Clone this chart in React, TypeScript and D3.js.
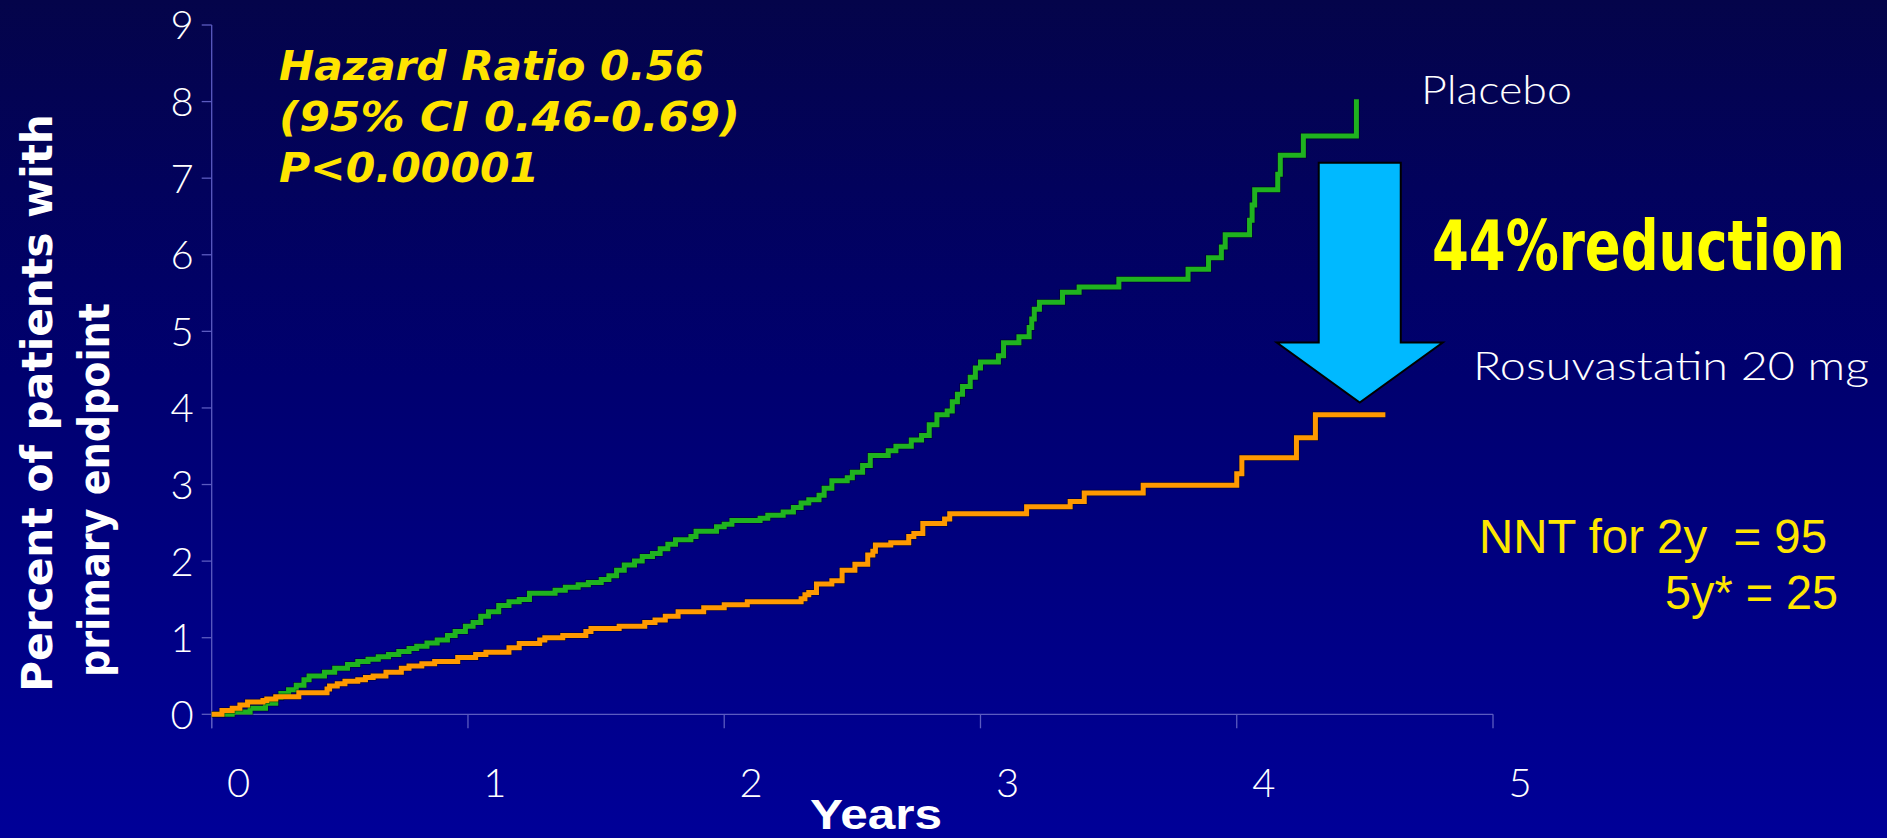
import React, { useEffect } from 'react';
import * as d3 from 'd3';

const W = 1887;
const H = 838;

// ---- data ----
const xTickValues = [0, 1, 2, 3, 4, 5];
const yTickValues = [0, 1, 2, 3, 4, 5, 6, 7, 8, 9];

// [years, cumulative % with primary endpoint] (value holds after time)
const placeboSteps: [number, number][] = [
  [0, 0], [0.08, 0.03], [0.15, 0.08], [0.21, 0.145], [0.25, 0.22], [0.27, 0.27], [0.3, 0.32],
  [0.33, 0.38], [0.36, 0.45], [0.38, 0.5], [0.44, 0.55], [0.48, 0.6], [0.53, 0.65], [0.57, 0.69],
  [0.61, 0.72], [0.65, 0.75], [0.69, 0.78], [0.73, 0.82], [0.77, 0.86], [0.8, 0.89], [0.84, 0.93],
  [0.88, 0.97], [0.92, 1.03], [0.95, 1.08], [0.99, 1.15], [1.02, 1.2], [1.05, 1.28], [1.08, 1.34],
  [1.12, 1.42], [1.16, 1.47], [1.2, 1.5], [1.24, 1.58], [1.34, 1.62], [1.38, 1.66], [1.43, 1.69],
  [1.47, 1.72], [1.52, 1.76], [1.55, 1.81], [1.58, 1.88], [1.61, 1.95], [1.65, 2.0], [1.68, 2.06],
  [1.72, 2.1], [1.75, 2.16], [1.78, 2.22], [1.81, 2.28], [1.87, 2.32], [1.89, 2.39], [1.97, 2.45],
  [2.0, 2.48], [2.03, 2.53], [2.14, 2.56], [2.17, 2.6], [2.23, 2.64], [2.27, 2.7], [2.3, 2.76],
  [2.33, 2.8], [2.37, 2.86], [2.39, 2.95], [2.42, 3.05], [2.48, 3.09], [2.5, 3.16], [2.54, 3.25],
  [2.57, 3.38], [2.64, 3.44], [2.67, 3.5], [2.73, 3.58], [2.77, 3.64], [2.8, 3.78], [2.83, 3.91],
  [2.87, 3.96], [2.89, 4.08], [2.91, 4.18], [2.93, 4.28], [2.96, 4.4], [2.98, 4.52], [3.0, 4.6],
  [3.07, 4.68], [3.09, 4.85], [3.15, 4.93], [3.19, 5.05], [3.2, 5.16], [3.21, 5.29], [3.23, 5.38],
  [3.32, 5.51], [3.385, 5.58], [3.54, 5.68], [3.81, 5.81], [3.89, 5.96], [3.94, 6.1], [3.955, 6.26],
  [4.05, 6.45], [4.06, 6.65], [4.07, 6.85], [4.16, 7.05], [4.17, 7.3], [4.26, 7.55], [4.467, 8.03],
];

const rosuvastatinSteps: [number, number][] = [
  [0, 0], [0.04, 0.05], [0.08, 0.08], [0.11, 0.12], [0.14, 0.16], [0.2, 0.18], [0.215, 0.2],
  [0.25, 0.23], [0.34, 0.28], [0.45, 0.33], [0.46, 0.37], [0.49, 0.4], [0.52, 0.43], [0.57, 0.45],
  [0.6, 0.48], [0.63, 0.5], [0.68, 0.55], [0.74, 0.6], [0.77, 0.63], [0.82, 0.66], [0.87, 0.69],
  [0.96, 0.74], [1.03, 0.78], [1.07, 0.81], [1.16, 0.87], [1.2, 0.925], [1.28, 0.97], [1.3, 1.0],
  [1.37, 1.03], [1.46, 1.08], [1.48, 1.12], [1.59, 1.15], [1.69, 1.2], [1.73, 1.23], [1.77, 1.28],
  [1.82, 1.34], [1.92, 1.39], [2.0, 1.43], [2.09, 1.47], [2.3, 1.51], [2.315, 1.56], [2.33, 1.59],
  [2.36, 1.7], [2.42, 1.745], [2.46, 1.88], [2.51, 1.96], [2.56, 2.08], [2.58, 2.13], [2.59, 2.21],
  [2.65, 2.24], [2.72, 2.32], [2.74, 2.36], [2.775, 2.49], [2.86, 2.55], [2.88, 2.62], [3.18, 2.71],
  [3.35, 2.78], [3.405, 2.89], [3.635, 2.99], [4.0, 3.14], [4.02, 3.35], [4.233, 3.61], [4.307, 3.91],
  [4.58, 3.91],
];

const seriesNames = ['Placebo', 'Rosuvastatin 20 mg'];
const seriesColors = ['#1fb31f', '#ff9900'];
const hazardLines = ['Hazard Ratio 0.56', '(95% CI 0.46-0.69)', 'P<0.00001'];
const yTitleLines = ['Percent of patients with', 'primary endpoint'];
const xTitle = 'Years';
const reductionText = '44%reduction';
const nntLines = ['NNT for 2y  = 95', '5y* = 25'];

// arrow annotation in data units
const arrowSpec = { t: 4.48, top: 7.2, headStart: 4.853, tip: 4.07, shaftHalf: 0.16, headHalf: 0.324 };

export default function App() {
  useEffect(() => {
    document.body.style.margin = '0';
    document.body.style.overflow = 'hidden';
  }, []);

  const x = d3.scaleLinear().domain([0, 5]).range([211.7, 1493]);
  const y = d3.scaleLinear().domain([0, 9]).range([714.3, 25]);

  const line = d3
    .line<[number, number]>()
    .x((d) => x(d[0]))
    .y((d) => y(d[1]))
    .curve(d3.curveStepAfter);

  const a = arrowSpec;
  const arrowPts: [number, number][] = [
    [x(a.t - a.shaftHalf), y(a.top)],
    [x(a.t + a.shaftHalf), y(a.top)],
    [x(a.t + a.shaftHalf), y(a.headStart)],
    [x(a.t + a.headHalf), y(a.headStart)],
    [x(a.t), y(a.tip)],
    [x(a.t - a.headHalf), y(a.headStart)],
    [x(a.t - a.shaftHalf), y(a.headStart)],
  ];

  const axisColor = '#5b5bc0';
  const thin = "Lato, 'Open Sans', 'Liberation Sans', sans-serif";

  return (
    <svg width={W} height={H} style={{ display: 'block' }}>
      <defs>
        <linearGradient id="bg" x1="0" y1="0" x2="0" y2="1">
          <stop offset="0%" stopColor="#04044a" />
          <stop offset="45%" stopColor="#00006f" />
          <stop offset="100%" stopColor="#000098" />
        </linearGradient>
      </defs>
      <rect x={0} y={0} width={W} height={H} fill="url(#bg)" />

      {/* axes */}
      <line x1={x(0)} x2={x(0)} y1={y(9)} y2={y(0) + 14} stroke={axisColor} strokeWidth={1.3} />
      <line x1={x(0)} x2={x(5)} y1={y(0)} y2={y(0)} stroke={axisColor} strokeWidth={1.3} />
      {yTickValues.map((v) => (
        <g key={'yt' + v}>
          <line x1={x(0) - 10} x2={x(0)} y1={y(v)} y2={y(v)} stroke={axisColor} strokeWidth={1.3} />
          <text
            x={x(0) - 18}
            y={y(v)}
            dy="0.36em"
            textAnchor="end"
            fill="#ffffff"
            fontFamily={thin}
            fontWeight={300}
            fontSize={40}
          >
            {v}
          </text>
        </g>
      ))}
      {xTickValues.map((t) => (
        <g key={'xt' + t}>
          <line x1={x(t)} x2={x(t)} y1={y(0)} y2={y(0) + 14} stroke={axisColor} strokeWidth={1.3} />
          <text
            x={x(t) + 27}
            y={797}
            textAnchor="middle"
            fill="#ffffff"
            fontFamily={thin}
            fontWeight={300}
            fontSize={40}
          >
            {t}
          </text>
        </g>
      ))}

      {/* axis titles */}
      <text
        x={876}
        y={829}
        textAnchor="middle"
        fill="#ffffff"
        fontFamily="'Liberation Sans', Arial, sans-serif"
        fontWeight="bold"
        fontSize={42}
        textLength={132}
        lengthAdjust="spacingAndGlyphs"
      >
        {xTitle}
      </text>
      <text
        transform="translate(52,692) rotate(-90)"
        fill="#ffffff"
        fontFamily="'DejaVu Sans', Verdana, sans-serif"
        fontWeight="bold"
        fontSize={42}
        textLength={578}
        lengthAdjust="spacingAndGlyphs"
      >
        {yTitleLines[0]}
      </text>
      <text
        transform="translate(109,677) rotate(-90)"
        fill="#ffffff"
        fontFamily="'DejaVu Sans', Verdana, sans-serif"
        fontWeight="bold"
        fontSize={42}
        textLength={374}
        lengthAdjust="spacingAndGlyphs"
      >
        {yTitleLines[1]}
      </text>

      {/* curves */}
      {[placeboSteps, rosuvastatinSteps].map((s, i) => (
        <g key={'s' + i}>
          <path d={line(s) || ''} fill="none" stroke="rgba(0,0,0,0.45)" strokeWidth={6.5} />
          <path d={line(s) || ''} fill="none" stroke={seriesColors[i]} strokeWidth={5} />
        </g>
      ))}

      {/* arrow */}
      <polygon
        points={arrowPts.map((p) => p.join(',')).join(' ')}
        fill="#00b9ff"
        stroke="#000000"
        strokeWidth={2}
      />

      {/* hazard ratio */}
      {hazardLines.map((t, i) => (
        <text
          key={'h' + i}
          x={279}
          y={80 + i * 51}
          fill="#ffe400"
          fontFamily="'DejaVu Sans', Verdana, sans-serif"
          fontWeight="bold"
          fontStyle="italic"
          fontSize={41}
          textLength={[425, 461, 260][i]}
          lengthAdjust="spacingAndGlyphs"
        >
          {t}
        </text>
      ))}

      {/* series labels */}
      <text
        x={1421}
        y={104}
        fill="#ffffff"
        fontFamily={thin}
        fontWeight={300}
        fontSize={39}
        textLength={151}
        lengthAdjust="spacingAndGlyphs"
      >
        {seriesNames[0]}
      </text>
      <text
        x={1473}
        y={380}
        fill="#ffffff"
        fontFamily={thin}
        fontWeight={300}
        fontSize={39}
        textLength={396}
        lengthAdjust="spacingAndGlyphs"
      >
        {seriesNames[1]}
      </text>

      {/* reduction */}
      <text
        transform="translate(1432,270) scale(1,1.23)"
        x={0}
        y={0}
        fill="#ffff00"
        fontFamily="'Liberation Sans Narrow', 'Arial Narrow', 'DejaVu Sans Condensed', sans-serif"
        fontWeight="bold"
        fontSize={57}
        textLength={413}
        lengthAdjust="spacingAndGlyphs"
      >
        {reductionText}
      </text>

      {/* NNT */}
      <text
        x={1479}
        y={553}
        fill="#ffe600"
        fontFamily="'Liberation Sans', Arial, sans-serif"
        fontSize={48}
        textLength={348}
        lengthAdjust="spacingAndGlyphs"
        style={{ whiteSpace: 'pre' }}
      >
        {nntLines[0]}
      </text>
      <text
        x={1665}
        y={609}
        fill="#ffe600"
        fontFamily="'Liberation Sans', Arial, sans-serif"
        fontSize={48}
        textLength={173}
        lengthAdjust="spacingAndGlyphs"
        style={{ whiteSpace: 'pre' }}
      >
        {nntLines[1]}
      </text>
    </svg>
  );
}
